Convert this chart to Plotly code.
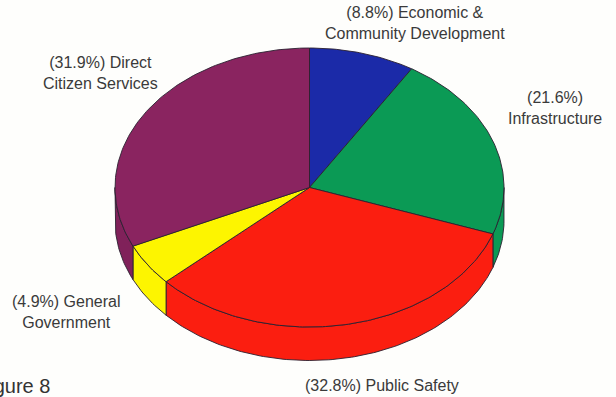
import numpy as np
import plotly.graph_objects as go

# Budget shares, clockwise from twelve o'clock
categories = ["Economic & Community Development", "Infrastructure", "Public Safety",
              "General Government", "Direct Citizen Services"]
shares = [8.8, 21.6, 32.8, 4.9, 31.9]
colors = ["#1b2aa8", "#0b9a55", "#fb1e10", "#fdf500", "#8a2460"]
side_colors = ["#1b2aa8", "#0b9a55", "#fb1e10", "#fdf500", "#80215a"]

# Label text and placement
label_lines = ["(8.8%) Economic &<br>Community Development", "(21.6%)<br>Infrastructure",
               "(32.8%) Public Safety", "(4.9%) General<br>Government",
               "(31.9%) Direct<br>Citizen Services"]
label_x = [414.5, 554.5, 381.5, 66.5, 100.5]
label_y = [22.5, 107.5, 385, 311.5, 72.5]
caption = "Figure 8"

# Tilted disc geometry, in the plot's own units
cx, cy, rx, ry, depth = 309.5, 187.5, 194.5, 139.5, 33.5
INK = "#2a2030"


def rim(a0, a1, n=None):
    """Points along the disc rim between two clockwise angles (radians from top)."""
    n = n or max(2, int(abs(a1 - a0) * 60))
    t = np.linspace(a0, a1, n)
    return cx + rx * np.sin(t), cy - ry * np.cos(t)


def polygon(x, y, fill):
    return go.Scatter(x=x, y=y, mode="lines", fill="toself", fillcolor=fill,
                      line=dict(color=INK, width=0.9), hoverinfo="skip", showlegend=False)


edges = np.radians(np.concatenate([[0], np.cumsum(shares)]) * 3.6 * 100 / sum(shares))
fig = go.Figure()

# Outer wall: only the part of each slice's rim facing the viewer
for i in range(len(shares)):
    a0, a1 = max(edges[i], np.pi / 2), min(edges[i + 1], 3 * np.pi / 2)
    if a1 <= a0:
        continue
    x, y = rim(a0, a1)
    fig.add_trace(polygon(np.r_[x, x[::-1], x[0]], np.r_[y, y[::-1] + depth, y[0]], side_colors[i]))

# Top face
for i in range(len(shares)):
    x, y = rim(edges[i], edges[i + 1])
    fig.add_trace(polygon(np.r_[cx, x, cx], np.r_[cy, y, cy], colors[i]))

for text, x, y in zip(label_lines, label_x, label_y):
    fig.add_annotation(x=x, y=y, text=text, showarrow=False, xanchor="center", yanchor="middle",
                       font=dict(family="Liberation Sans", size=16, color="#3a3a3a"))
fig.add_annotation(x=52, y=386, text=caption, showarrow=False, xanchor="right", yanchor="middle",
                   font=dict(family="Liberation Sans", size=20, color="#333333"))

fig.update_layout(
    width=616, height=397, margin=dict(l=0, r=0, t=0, b=0),
    paper_bgcolor="#fefefc", plot_bgcolor="#fefefc", showlegend=False,
    xaxis=dict(range=[0, 616], visible=False, fixedrange=True),
    yaxis=dict(range=[397, 0], visible=False, fixedrange=True),
)
fig.write_html("out.html", config={"displayModeBar": False})
